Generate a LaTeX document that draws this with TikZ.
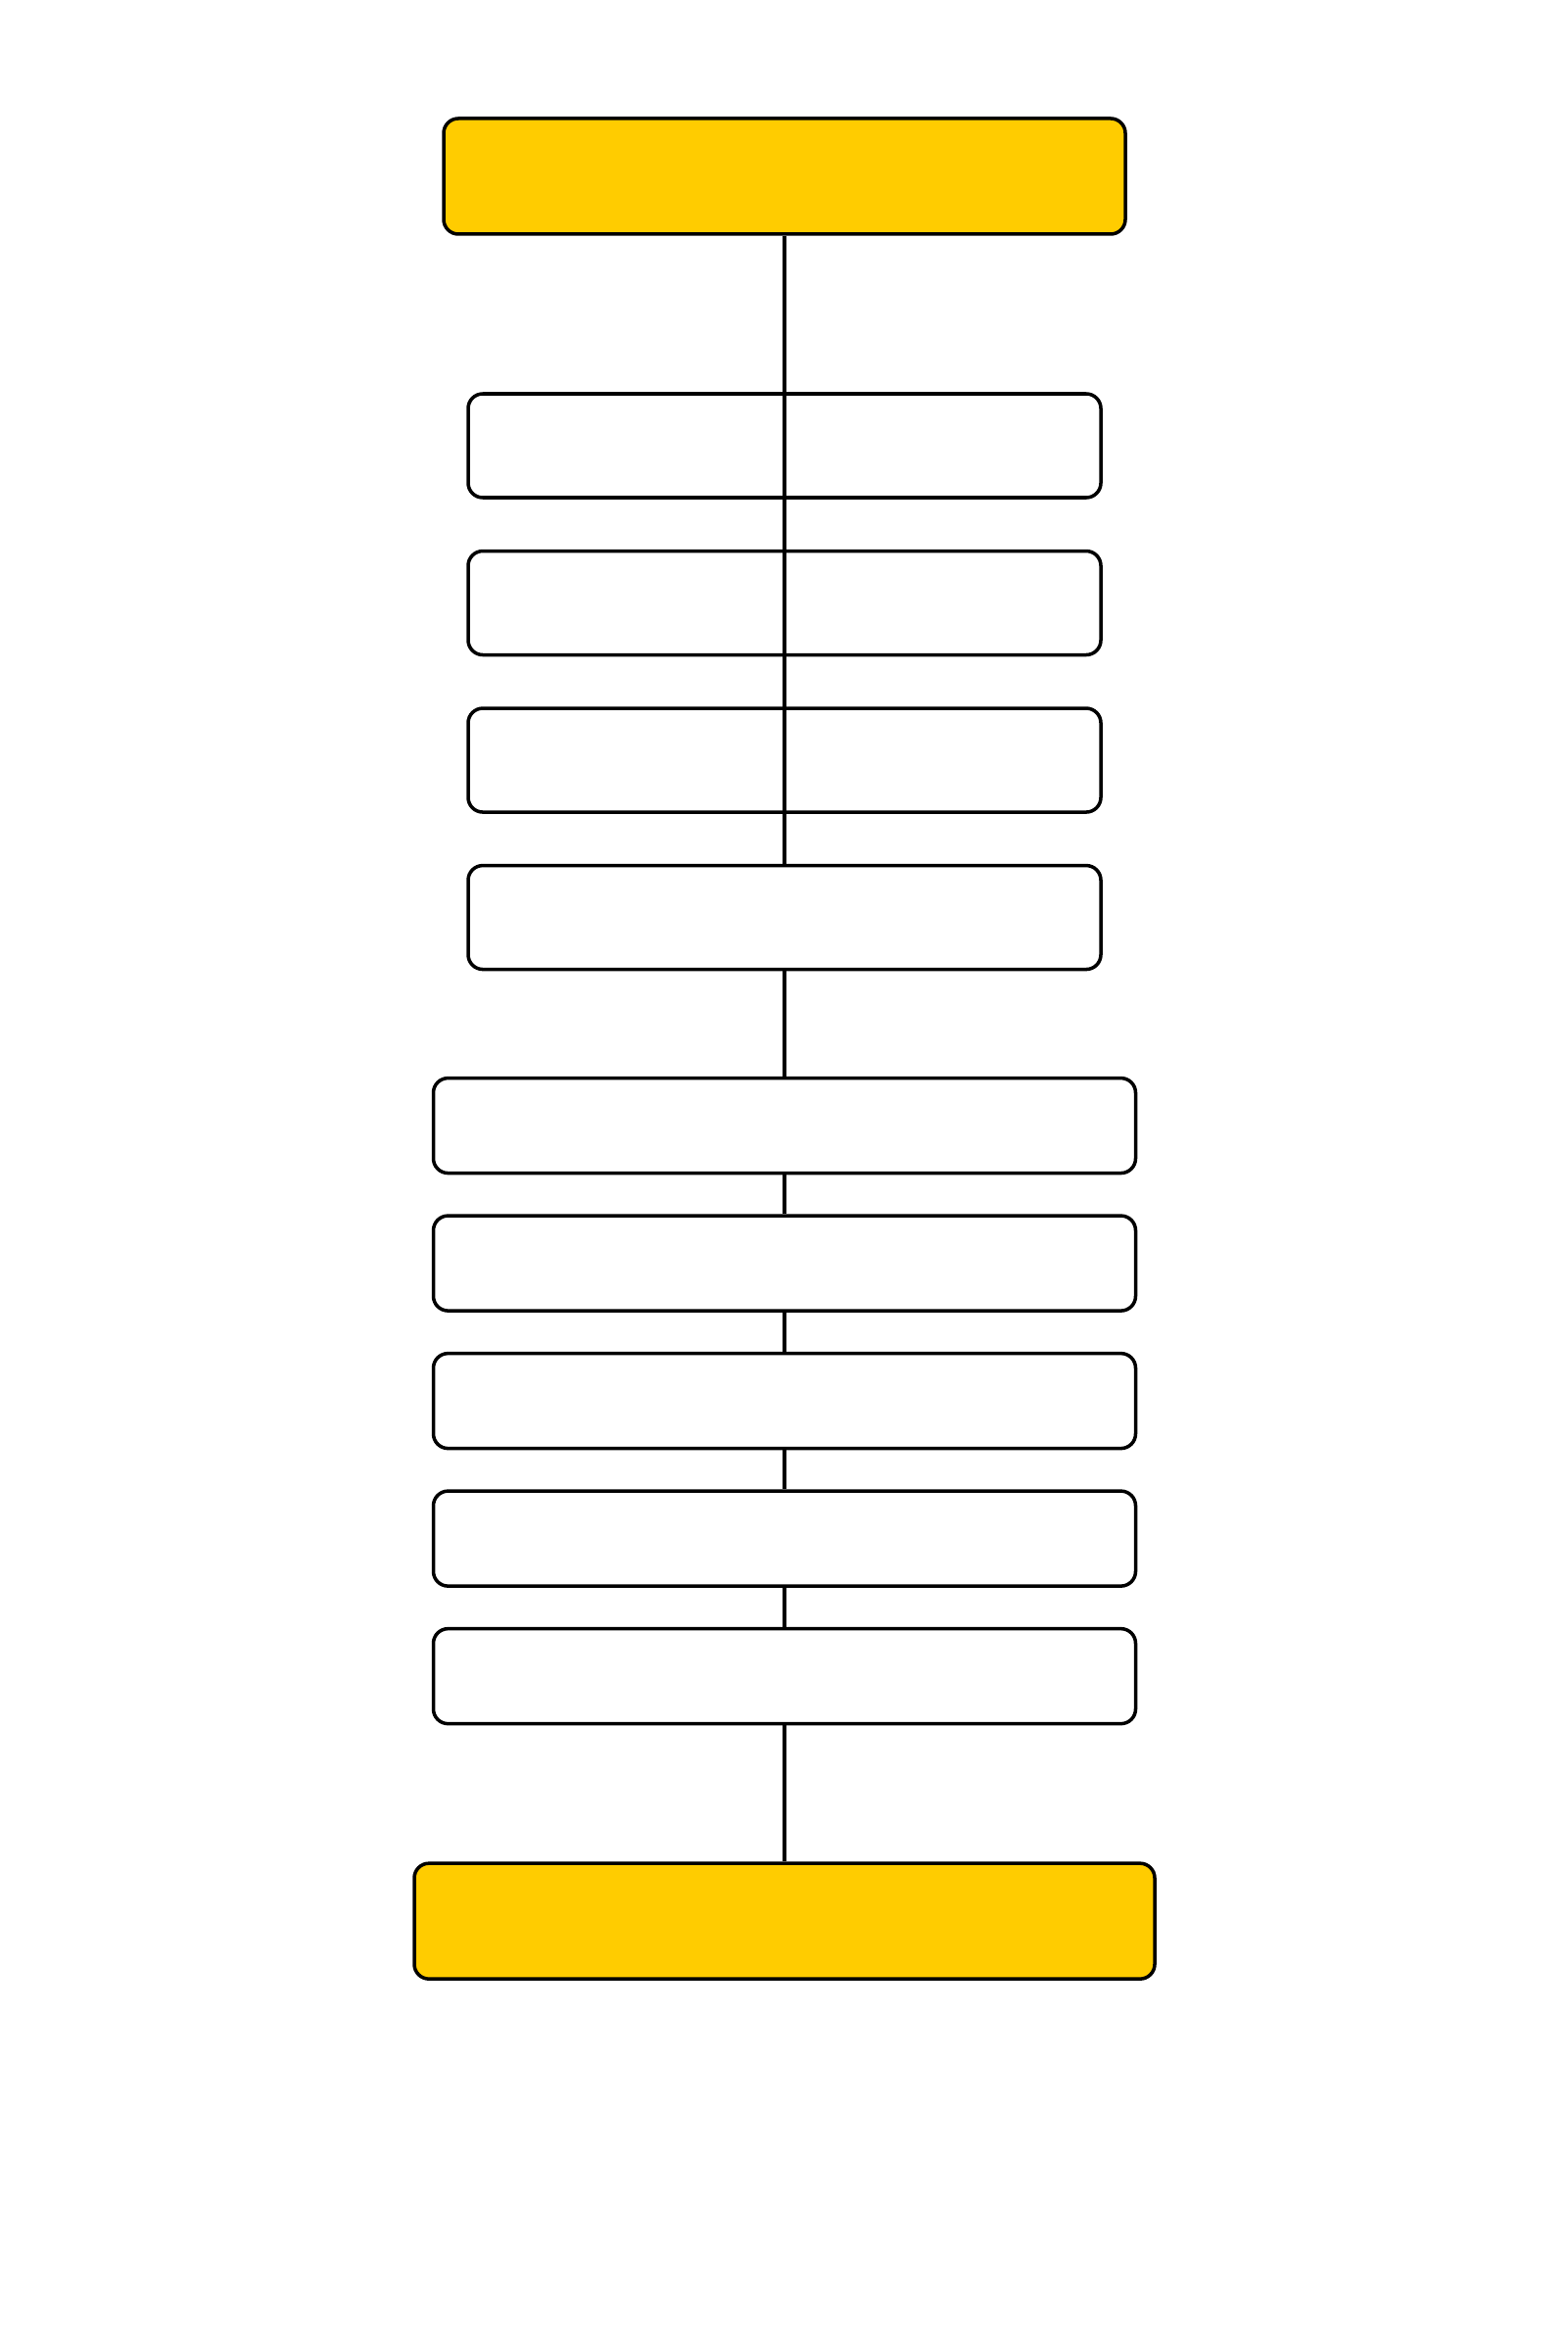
\documentclass[tikz,border=0pt]{standalone}
\usetikzlibrary{positioning}
\definecolor{giallo}{HTML}{FFCC00}
\begin{document}
\begin{tikzpicture}[node distance=5.1mm,line width=1pt,
capo/.style={draw,fill=giallo,rounded corners=1.5mm,minimum height=11.8mm},
passo/.style={draw,rounded corners=1.5mm,minimum width=64.6mm,minimum height=10.6mm},
passoL/.style={draw,rounded corners=1.5mm,minimum width=71.7mm,minimum height=9.7mm}
]
\useasboundingbox (0,0) rectangle (16,-24);
\node[capo,minimum width=69.6mm](inizio) at (8.01,-1.80){};
%--
\node[passo,below = 15.95mm of inizio](pa){};
\node[passo,below = of pa](pb){};
\node[passo,below = of pb](pc){};
\node[passo,below = of pc](pd){};
\draw (inizio) -- (pd);
%--
\node[passoL,below = 10.75mm of pd](qa){};
\draw (pd) -- (qa);
\node[passoL,below = 4.0mm of qa](qb){};
\draw (qa) -- (qb);
\node[passoL,below = 4.0mm of qb](qc){};
\draw (qb) -- (qc);
\node[passoL,below = 4.0mm of qc](qd){};
\draw (qc) -- (qd);
\node[passoL,below = 4.0mm of qd](qe){};
\draw (qd) -- (qe);
%--
\node[capo,minimum width=75.6mm,below = 13.9mm of qe](fine){};
\draw (qe) -- (fine);
\end{tikzpicture}
\end{document}
